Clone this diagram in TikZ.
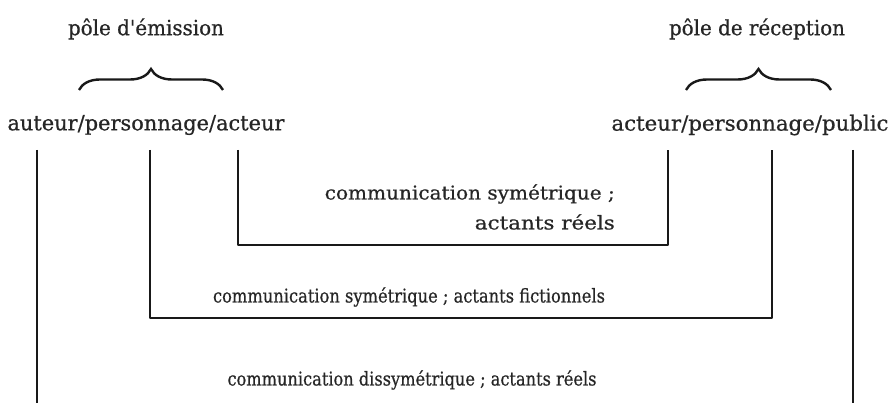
\documentclass[tikz,border=0pt]{standalone}
\usepackage{fontspec}
\setmainfont{DejaVu Serif}[Ligatures=TeXOff, FakeBold=0.6]
\usetikzlibrary{decorations.pathreplacing}
\newcommand{\fitw}[2]{\resizebox{#1}{\height}{#2}}
\tikzset{
  lbl/.style={inner sep=0pt, font=\fontsize{21}{25}\selectfont, text=black!85},
  sml/.style={inner sep=0pt, font=\fontsize{19}{23}\selectfont, text=black!85},
  wire/.style={line width=2.4pt, black!90, line join=round},
  bracestyle/.style={line width=2.4pt, black!90, decorate, decoration={brace, amplitude=21pt, aspect=0.5}}
}
\begin{document}
\begin{tikzpicture}[x=1pt,y=-1pt]
\useasboundingbox (0,0) rectangle (896,403);
\fill[white] (0,0) rectangle (896,403);
% titles
\node[lbl] (pe) at (146,29) {\fitw{156pt}{pôle d'émission}};
\node[lbl] (pr) at (757,29) {\fitw{176pt}{pôle de réception}};
% braces
\coordinate (b1a) at (79,90);
\coordinate (b1b) at (223,90);
\coordinate (b2a) at (686,90);
\coordinate (b2b) at (831,90);
\draw[bracestyle] (b1a) -- (b1b);
\draw[bracestyle] (b2a) -- (b2b);
% actor lines
\node[lbl] (em) at (146,125) {\fitw{277pt}{auteur/personnage/acteur}};
\node[lbl] (re) at (750,125) {\fitw{277pt}{acteur/personnage/public}};
% coordinates
\coordinate (o1) at (37,150);  \coordinate (o2) at (37,404);
\coordinate (o3) at (853,150); \coordinate (o4) at (853,404);
\coordinate (m1) at (150,150); \coordinate (m2) at (150,318);
\coordinate (m3) at (772,318); \coordinate (m4) at (772,150);
\coordinate (i1) at (238,150); \coordinate (i2) at (238,245);
\coordinate (i3) at (668,245); \coordinate (i4) at (668,150);
\draw[wire] (o1) -- (o2);
\draw[wire] (o3) -- (o4);
\draw[wire] (m1) -- (m2) -- (m3) -- (m4);
\draw[wire] (i1) -- (i2) -- (i3) -- (i4);
% labels
\node[sml, anchor=east] (t1a) at (615,194) {\fitw{290pt}{communication symétrique ;}};
\node[sml, anchor=east] (t1b) at (615,222) {\fitw{140pt}{actants réels}};
\node[sml] (t2) at (409,297) {\fitw{392pt}{communication symétrique ; actants fictionnels}};
\node[sml] (t3) at (412,380) {\fitw{369pt}{communication dissymétrique ; actants réels}};
\end{tikzpicture}
\end{document}
